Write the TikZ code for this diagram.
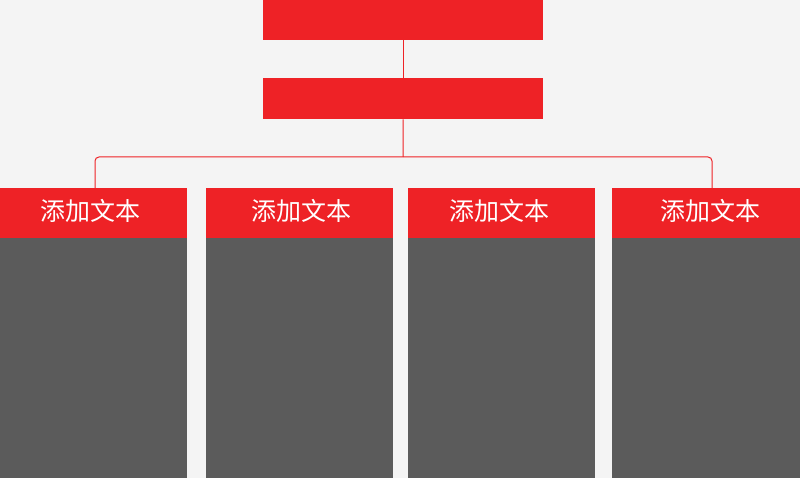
\documentclass[tikz,border=0pt]{standalone}
\usepackage{fontspec}
\newfontfamily\cjk{Noto Sans CJK SC}
\definecolor{bg}{HTML}{F4F4F4}
\definecolor{myred}{HTML}{EE2226}
\definecolor{mygray}{HTML}{5B5B5B}
\begin{document}
\begin{tikzpicture}[x=1pt,y=-1pt,
  redbar/.style={fill=myred,draw=none,minimum width=280pt,minimum height=40pt,inner sep=0pt},
  head/.style={fill=myred,draw=none,inner sep=0pt,minimum height=50pt},
  lbl/.style={text=white,inner sep=0pt,font=\cjk\fontsize{25}{28}\selectfont},
  body/.style={fill=mygray,draw=none},
  link/.style={draw=myred,line width=1pt,rounded corners=4pt}]
\fill[bg] (0,0) rectangle (800,478);
\useasboundingbox (0,0) rectangle (800,478);
\node[redbar,anchor=north west] (top) at (263,0) {};
\node[redbar,anchor=north west,minimum height=41pt] (mid) at (263,78) {};
\node[head,minimum width=187pt,anchor=north west] (h1) at (0,188) {};
\node[head,minimum width=187pt,anchor=north west] (h2) at (206,188) {};
\node[head,minimum width=187pt,anchor=north west] (h3) at (408,188) {};
\node[head,minimum width=188pt,anchor=north west] (h4) at (612,188) {};
\node[lbl] (t1) at (90,211) {添加文本};
\node[lbl] (t2) at (301.5,211) {添加文本};
\node[lbl] (t3) at (499,211) {添加文本};
\node[lbl] (t4) at (710,211) {添加文本};
\fill[body] (h1.south west) rectangle (187,478);
\fill[body] (h2.south west) rectangle (393,478);
\fill[body] (h3.south west) rectangle (595,478);
\fill[body] (h4.south west) rectangle (800,478);
\coordinate (hub) at (403,157);
\draw[link] (top.south) -- (mid.north);
\draw[link] (mid.south) -- (hub);
\coordinate (c1) at (95,188);
\coordinate (c4) at (712,188);
\draw[link] (c1) -- (95,157) -- (hub) -- (712,157) -- (c4);
\end{tikzpicture}
\end{document}
